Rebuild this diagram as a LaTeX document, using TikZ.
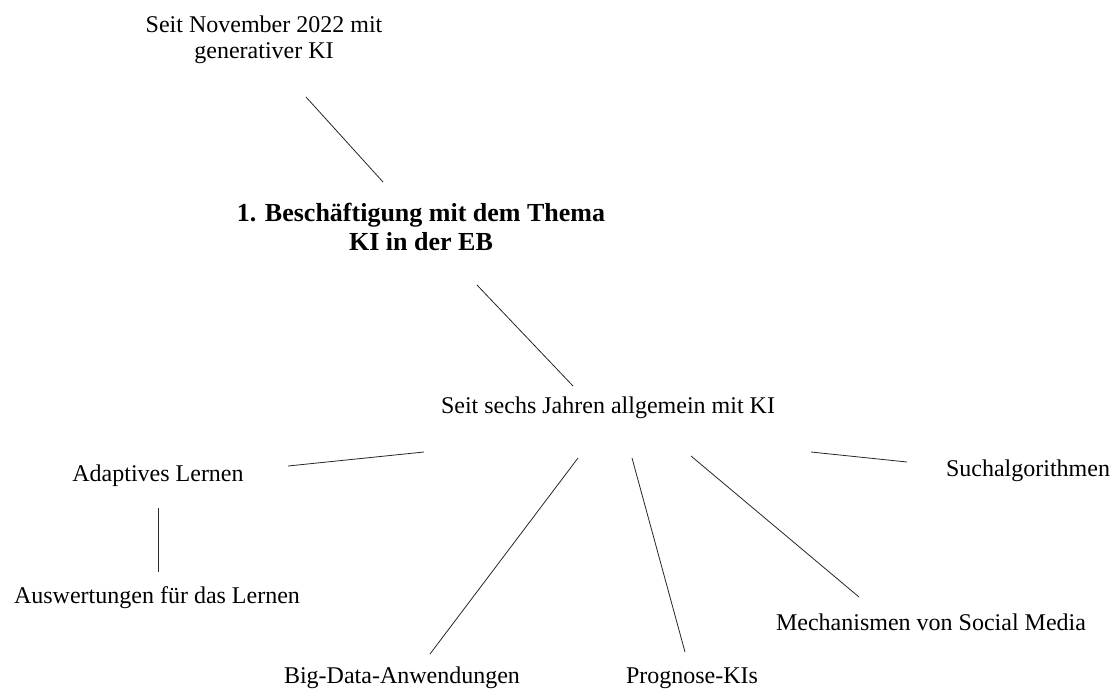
\documentclass[tikz,border=0pt]{standalone}
\usepackage{fontspec}
\setmainfont{Liberation Serif}
\begin{document}
\begin{tikzpicture}[x=1pt,y=-1pt,
  lbl/.style={inner sep=0pt,align=center,font=\fontsize{24}{26}\selectfont},
  blbl/.style={inner sep=0pt,align=center,font=\fontsize{26}{29}\selectfont\bfseries},
  con/.style={draw=black!85,line width=0.8pt}]
\useasboundingbox (0,0) rectangle (1119,691);
\node[lbl] (nov) at (264,40) {Seit November 2022 mit\\generativer KI};
\node[blbl] (main) at (421,227) {1. Besch\"aftigung mit dem Thema\\KI in der EB};
\node[lbl] (sechs) at (608,408) {Seit sechs Jahren allgemein mit KI};
\node[lbl] (adapt) at (158,476) {Adaptives Lernen};
\node[lbl] (ausw) at (157,598) {Auswertungen f\"ur das Lernen};
\node[lbl] (big) at (402,678) {Big-Data-Anwendungen};
\node[lbl] (prog) at (692,678) {Prognose-KIs};
\node[lbl] (mech) at (931,622) {Mechanismen von Social Media};
\node[lbl] (such) at (1028,471) {Suchalgorithmen};
\coordinate (c1a) at (306,97); \coordinate (c1b) at (383,182);
\coordinate (c2a) at (477,285); \coordinate (c2b) at (573,386);
\coordinate (c3a) at (424,452); \coordinate (c3b) at (288,466);
\coordinate (c4a) at (158,508); \coordinate (c4b) at (158,572);
\coordinate (c5a) at (578,458); \coordinate (c5b) at (430,654);
\coordinate (c6a) at (632,458); \coordinate (c6b) at (685,652);
\coordinate (c7a) at (691,456); \coordinate (c7b) at (859,597);
\coordinate (c8a) at (811,452); \coordinate (c8b) at (907,462);
\draw[con] (c1a) -- (c1b);
\draw[con] (c2a) -- (c2b);
\draw[con] (c3a) -- (c3b);
\draw[con] (c4a) -- (c4b);
\draw[con] (c5a) -- (c5b);
\draw[con] (c6a) -- (c6b);
\draw[con] (c7a) -- (c7b);
\draw[con] (c8a) -- (c8b);
\end{tikzpicture}
\end{document}
